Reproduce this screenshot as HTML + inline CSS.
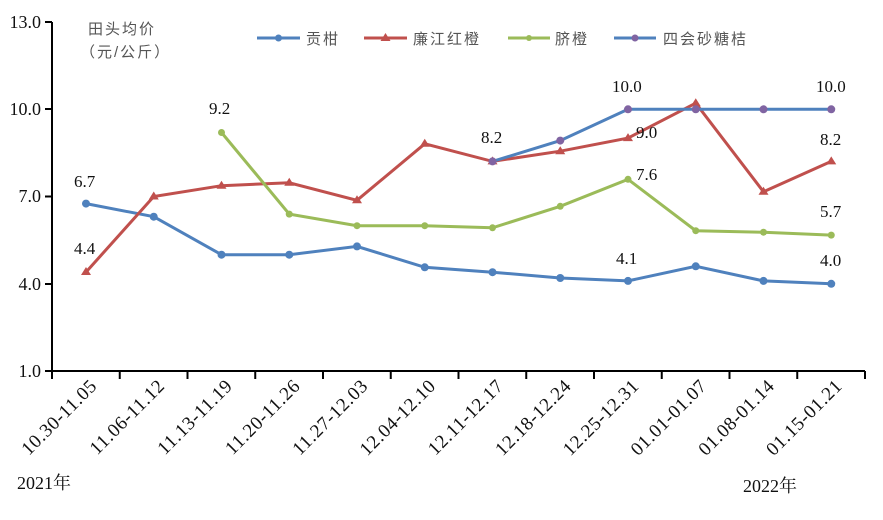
<!DOCTYPE html>
<html><head><meta charset="utf-8"><style>
html,body{margin:0;padding:0;background:#fff;}
svg{display:block;}
.t{font-family:"Liberation Serif",serif;font-size:17px;fill:#111;}
.y{font-family:"Liberation Serif","Noto Serif CJK SC",serif;font-size:18px;fill:#111;}
.c{font-family:"Liberation Sans","Noto Sans CJK SC",sans-serif;font-size:15px;fill:#555;letter-spacing:2px;}
</style></head><body>
<svg width="883" height="520" viewBox="0 0 883 520" xmlns="http://www.w3.org/2000/svg">
<g stroke="#000" stroke-width="2" fill="none">
<line x1="52" y1="22" x2="52" y2="371"/>
<line x1="52" y1="371" x2="865" y2="371"/>
<line x1="45" y1="22" x2="52" y2="22"/>
<line x1="45" y1="109" x2="52" y2="109"/>
<line x1="45" y1="196.5" x2="52" y2="196.5"/>
<line x1="45" y1="284" x2="52" y2="284"/>
<line x1="45" y1="371" x2="52" y2="371"/>
<line x1="52" y1="371" x2="52" y2="379"/><line x1="119.75" y1="371" x2="119.75" y2="379"/><line x1="187.5" y1="371" x2="187.5" y2="379"/><line x1="255.25" y1="371" x2="255.25" y2="379"/><line x1="323" y1="371" x2="323" y2="379"/><line x1="390.75" y1="371" x2="390.75" y2="379"/><line x1="458.5" y1="371" x2="458.5" y2="379"/><line x1="526.25" y1="371" x2="526.25" y2="379"/><line x1="594" y1="371" x2="594" y2="379"/><line x1="661.75" y1="371" x2="661.75" y2="379"/><line x1="729.5" y1="371" x2="729.5" y2="379"/><line x1="797.25" y1="371" x2="797.25" y2="379"/><line x1="865" y1="371" x2="865" y2="379"/>
</g>
<g class="t" text-anchor="end" style="font-size:18px">
<text x="41" y="28">13.0</text><text x="41" y="115">10.0</text><text x="41" y="202">7.0</text><text x="41" y="290">4.0</text><text x="41" y="377">1.0</text>
</g>
<text class="c" x="88" y="34">田头均价</text>
<text class="c" x="80" y="57">（元/公斤）</text>
<polyline fill="none" stroke="#4f81bd" stroke-width="3" points="86,203.6 153.75,216.7 221.5,254.7 289.25,254.7 357,246.4 424.75,267.3 492.5,272.2 560.25,278 628,280.9 695.75,266.3 763.5,280.9 831.25,283.8"/>
<g fill="#4f81bd"><circle cx="86" cy="203.6" r="4"/><circle cx="153.75" cy="216.7" r="4"/><circle cx="221.5" cy="254.7" r="4"/><circle cx="289.25" cy="254.7" r="4"/><circle cx="357" cy="246.4" r="4"/><circle cx="424.75" cy="267.3" r="4"/><circle cx="492.5" cy="272.2" r="4"/><circle cx="560.25" cy="278" r="4"/><circle cx="628" cy="280.9" r="4"/><circle cx="695.75" cy="266.3" r="4"/><circle cx="763.5" cy="280.9" r="4"/><circle cx="831.25" cy="283.8" r="4"/></g>
<polyline fill="none" stroke="#c0504d" stroke-width="3" points="86,272.1 153.75,196.5 221.5,185.7 289.25,182.8 357,200.3 424.75,143.8 492.5,161.4 560.25,151.2 628,138.1 695.75,103.2 763.5,191.8 831.25,161.4"/>
<g fill="#c0504d"><path d="M86,267l5,8h-10z"/><path d="M153.75,191.5l5,8h-10z"/><path d="M221.5,180.7l5,8h-10z"/><path d="M289.25,177.8l5,8h-10z"/><path d="M357,195.3l5,8h-10z"/><path d="M424.75,138.8l5,8h-10z"/><path d="M492.5,156.4l5,8h-10z"/><path d="M560.25,146.2l5,8h-10z"/><path d="M628,133.1l5,8h-10z"/><path d="M695.75,98.2l5,8h-10z"/><path d="M763.5,186.8l5,8h-10z"/><path d="M831.25,156.4l5,8h-10z"/></g>
<polyline fill="none" stroke="#9bbb59" stroke-width="3" points="221.5,132.5 289.25,214.1 357,225.7 424.75,225.7 492.5,227.8 560.25,206.3 628,179.3 695.75,230.7 763.5,232.2 831.25,235.1"/>
<g fill="#9bbb59"><circle cx="221.5" cy="132.5" r="3.5"/><circle cx="289.25" cy="214.1" r="3.5"/><circle cx="357" cy="225.7" r="3.5"/><circle cx="424.75" cy="225.7" r="3.5"/><circle cx="492.5" cy="227.8" r="3.5"/><circle cx="560.25" cy="206.3" r="3.5"/><circle cx="628" cy="179.3" r="3.5"/><circle cx="695.75" cy="230.7" r="3.5"/><circle cx="763.5" cy="232.2" r="3.5"/><circle cx="831.25" cy="235.1" r="3.5"/></g>
<polyline fill="none" stroke="#4f81bd" stroke-width="3" points="492.5,161.4 560.25,140.6 628,109.3 695.75,109.3 763.5,109.3 831.25,109.3"/>
<g fill="#8064a2"><circle cx="492.5" cy="161.4" r="4"/><circle cx="560.25" cy="140.6" r="4"/><circle cx="628" cy="109.3" r="4"/><circle cx="695.75" cy="109.3" r="4"/><circle cx="763.5" cy="109.3" r="4"/><circle cx="831.25" cy="109.3" r="4"/></g>
<g class="t" style="font-size:17px">
<text x="74" y="187">6.7</text><text x="74" y="254">4.4</text><text x="209" y="114">9.2</text>
<text x="481" y="143">8.2</text><text x="612" y="92">10.0</text><text x="636" y="138">9.0</text><text x="636" y="180">7.6</text>
<text x="616" y="264">4.1</text><text x="816" y="92">10.0</text><text x="820" y="145">8.2</text><text x="820" y="217">5.7</text><text x="820" y="266">4.0</text>
</g>
<g class="t" text-anchor="end" style="font-size:19px;letter-spacing:0.6px">
<text transform="translate(98,387) rotate(-45)">10.30-11.05</text>
<text transform="translate(165.75,387) rotate(-45)">11.06-11.12</text>
<text transform="translate(233.5,387) rotate(-45)">11.13-11.19</text>
<text transform="translate(301.25,387) rotate(-45)">11.20-11.26</text>
<text transform="translate(369,387) rotate(-45)">11.27-12.03</text>
<text transform="translate(436.75,387) rotate(-45)">12.04-12.10</text>
<text transform="translate(504.5,387) rotate(-45)">12.11-12.17</text>
<text transform="translate(572.25,387) rotate(-45)">12.18-12.24</text>
<text transform="translate(640,387) rotate(-45)">12.25-12.31</text>
<text transform="translate(707.75,387) rotate(-45)">01.01-01.07</text>
<text transform="translate(775.5,387) rotate(-45)">01.08-01.14</text>
<text transform="translate(843.25,387) rotate(-45)">01.15-01.21</text>
</g>
<text class="y" x="17" y="489">2021年</text>
<text class="y" x="743" y="492">2022年</text>
<line x1="257" y1="38" x2="300" y2="38" stroke="#4f81bd" stroke-width="3"/><circle cx="278.5" cy="38" r="3.5" fill="#4f81bd"/>
<text class="c" x="306" y="44">贡柑</text>
<line x1="364" y1="38" x2="407" y2="38" stroke="#c0504d" stroke-width="3"/><path d="M385.5,33l5,8h-10z" fill="#c0504d"/>
<text class="c" x="413" y="44">廉江红橙</text>
<line x1="508" y1="38" x2="550" y2="38" stroke="#9bbb59" stroke-width="3"/><circle cx="529" cy="38" r="3" fill="#9bbb59"/>
<text class="c" x="555" y="44">脐橙</text>
<line x1="614" y1="38" x2="656" y2="38" stroke="#4f81bd" stroke-width="3"/><circle cx="635" cy="38" r="3.5" fill="#8064a2"/>
<text class="c" x="663" y="44">四会砂糖桔</text>
</svg>
</body></html>
